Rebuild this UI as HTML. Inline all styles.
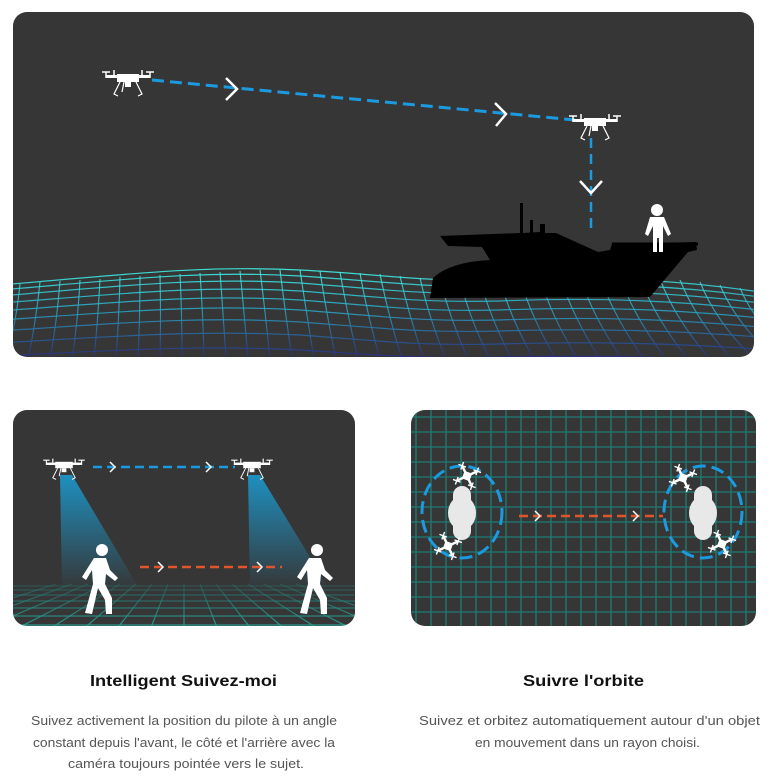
<!DOCTYPE html>
<html><head><meta charset="utf-8"><style>
html,body{margin:0;padding:0;background:#fff;}
svg{display:block}
</style></head><body>
<svg width="771" height="779" viewBox="0 0 771 779" xmlns="http://www.w3.org/2000/svg">
<defs>
<clipPath id="cTop"><rect x="13" y="12" width="741" height="345" rx="14"/></clipPath>
<clipPath id="cBL"><rect x="13" y="410" width="342" height="216" rx="14"/></clipPath>
<clipPath id="cBR"><rect x="411" y="410" width="345" height="216" rx="14"/></clipPath>
<linearGradient id="sea" x1="0" y1="270" x2="0" y2="357" gradientUnits="userSpaceOnUse">
<stop offset="0" stop-color="#40f0e4"/><stop offset="0.45" stop-color="#2aa6c4"/><stop offset="1" stop-color="#2a2f80"/></linearGradient>
<linearGradient id="cone" x1="0" y1="0" x2="0" y2="1">
<stop offset="0" stop-color="#1aa0d8"/><stop offset="1" stop-color="#1aa0d8" stop-opacity="0"/></linearGradient>
<linearGradient id="floor" x1="0" y1="580" x2="0" y2="626" gradientUnits="userSpaceOnUse">
<stop offset="0" stop-color="#1f7a74" stop-opacity="0.3"/><stop offset="1" stop-color="#2a9a90"/></linearGradient>
<g id="drone">
<rect x="-11" y="-4" width="22" height="8" fill="#fff"/>
<rect x="-22" y="-3" width="44" height="3" fill="#fff"/>
<path d="M-22,-6 v6 M22,-6 v6 M-14,-8 v5 M14,-8 v5 M-26,-6 h8 M18,-6 h8" stroke="#fff" stroke-width="1.5"/>
<path d="M-8,4 L-14,16 L-10,18 M8,4 L14,16 L10,18 M-4,4 L-6,14" stroke="#fff" stroke-width="1.2" fill="none"/>
<rect x="-3" y="4" width="6" height="5" fill="#fff"/>
</g>
<g id="qd">
<path d="M-8,-8 L8,8 M-8,8 L8,-8" stroke="#fff" stroke-width="2.5"/>
<rect x="-4" y="-4" width="8" height="8" fill="#fff"/>
<path d="M-12,-8 h8 M4,-8 h8 M-12,8 h8 M4,8 h8 M-8,-12 v8 M8,-12 v8 M-8,4 v8 M8,4 v8" stroke="#fff" stroke-width="1.4"/>
</g>
<g id="walker" fill="#fff">
<circle cx="2" cy="-30" r="6"/>
<path d="M-6,-22 L6,-22 L10,-10 L18,-2 L15,1 L6,-6 L5,4 L12,18 L12,34 L6,34 L5,20 L-2,8 L-8,34 L-15,33 L-7,4 L-8,-10 L-14,0 L-18,-3 Z"/>
</g>
<g id="peanut" fill="#e8e8e8">
<rect x="-9" y="-27" width="18" height="54" rx="9"/>
<ellipse cx="0" cy="0" rx="14" ry="17"/>
</g>
</defs>

<!-- TOP PANEL -->
<g clip-path="url(#cTop)">
<rect x="13" y="12" width="741" height="345" fill="#363636"/>
<g stroke="url(#sea)" stroke-width="1.2" fill="none" opacity="0.9">
<path d="M0,285 C120,275 200,265 300,270 C380,274 420,282 500,280 C600,276 680,280 760,292"/>
<path d="M0,290 C120,280 200,270 300,276 C380,281 420,288 500,286 C600,282 680,286 760,297"/>
<path d="M0,296 C120,286 200,277 300,283 C380,289 420,295 500,293 C600,289 680,293 760,303"/>
<path d="M0,303 C120,294 200,285 300,291 C380,297 420,303 500,301 C600,297 680,301 760,310"/>
<path d="M0,311 C120,302 200,294 300,300 C380,306 420,312 500,310 C600,306 680,310 760,318"/>
<path d="M0,320 C120,312 200,304 300,310 C380,316 420,322 500,320 C600,316 680,320 760,327"/>
<path d="M0,331 C120,323 200,316 300,322 C380,328 420,333 500,331 C600,328 680,331 760,337"/>
<path d="M0,343 C120,336 200,330 300,335 C380,341 420,346 500,344 C600,341 680,344 760,349"/>
<path d="M0,356 C120,350 200,345 300,350 C380,355 420,359 500,357 C600,355 680,357 760,361"/>
</g>
<g stroke="url(#sea)" stroke-width="1.1" fill="none" opacity="0.9">
<path d="M20,284 q-4,40 -14,75 M40,282 q-4,40 -12,77 M60,281 q-3,40 -10,78 M80,280 q-2,40 -8,79 M100,279 q-2,40 -6,80 M120,277 q-1,40 -4,82 M140,276 q0,40 -2,83 M160,275 q1,40 0,84 M180,274 q2,40 2,85 M200,273 q3,40 4,86 M220,272 q3,40 6,87 M240,271 q4,40 8,88 M260,270 q5,40 10,89 M280,270 q5,40 12,89 M300,270 q6,40 14,89 M320,271 q6,40 16,88 M340,272 q7,40 18,87 M360,273 q7,40 20,86 M380,274 q8,40 22,85 M400,276 q9,40 24,83 M420,278 q9,40 26,81 M440,279 q10,40 28,80 M460,280 q10,40 30,79 M480,280 q11,40 32,79 M500,280 q11,40 34,79 M520,279 q12,40 36,80 M540,278 q12,40 38,81 M560,277 q13,40 40,82 M580,277 q13,40 42,82 M600,277 q14,40 44,82 M620,277 q14,40 46,82 M640,278 q15,40 48,81 M660,279 q15,40 50,80 M680,280 q16,40 52,79 M700,282 q16,40 54,77 M720,285 q17,40 56,74 M740,288 q17,40 58,71"/>
</g>
<!-- boat -->
<path fill="#000" d="M440,236 L520,233 L520,203 L523,203 L523,233 L540,232 L540,224 L545,224 L545,233 L556,233 L598,252 L610,250 L612,244 L696,242 L697,250 L688,252 L650,297 L430,298 L433,278 Q450,262 490,260 L482,247 L448,246 Z"/>
<rect x="530" y="220" width="3" height="14" fill="#000"/>
<path d="M612,244 h86 M650,244 v10 M678,244 v10" stroke="#000" stroke-width="3"/>
<!-- person -->
<g fill="#fff"><circle cx="657" cy="210" r="6"/><path d="M650,217 h14 l7,17 l-3,2 l-5,-10 l0,26 l-4,0 l0,-14 l-2,0 l0,14 l-4,0 l0,-26 l-5,10 l-3,-2 z"/></g>
<!-- paths -->
<path d="M152,80 L575,120" stroke="#1b9ae0" stroke-width="3" stroke-dasharray="12,6" fill="none"/>
<path d="M591,138 L591,232" stroke="#1b9ae0" stroke-width="2.5" stroke-dasharray="10,6" fill="none"/>
<path d="M226,78 L237,89 L226,100 M495,103 L506,114 L496,126 M580,181 L591,193 L602,181" stroke="#fff" stroke-width="2.5" fill="none"/>
<use href="#drone" transform="translate(128,78)"/>
<use href="#drone" transform="translate(595,122)"/>
</g>

<!-- BOTTOM LEFT -->
<g clip-path="url(#cBL)">
<rect x="13" y="410" width="342" height="216" fill="#363636"/>
<path d="M60,475 L72,475 L140,590 L62,590 Z" fill="url(#cone)" opacity="0.85"/>
<path d="M248,475 L260,475 L330,590 L250,590 Z" fill="url(#cone)" opacity="0.85"/>
<g stroke="url(#floor)" stroke-width="1.2" fill="none">
<path d="M0,586 H360 M0,590 H360 M0,595 H360 M0,601 H360 M0,608 H360 M0,616 H360 M0,625 H360"/>
<path d="M184,584 L184,630 M168,584 L150,630 M152,584 L116,630 M136,584 L82,630 M120,584 L48,630 M104,584 L14,630 M88,584 L-20,630 M72,584 L-54,630 M56,584 L-88,630 M200,584 L218,630 M216,584 L252,630 M232,584 L286,630 M248,584 L320,630 M264,584 L354,630 M280,584 L388,630 M296,584 L422,630"/>
</g>
<path d="M93,467 L235,467" stroke="#1b9ae0" stroke-width="2.5" stroke-dasharray="9,5"/>
<path d="M110,462 L115,467 L110,472 M206,462 L211,467 L206,472" stroke="#fff" stroke-width="1.5" fill="none"/>
<path d="M140,567 L282,567" stroke="#e0552a" stroke-width="2.5" stroke-dasharray="9,5"/>
<path d="M158,562 L163,567 L158,572 M257,562 L262,567 L257,572" stroke="#fff" stroke-width="1.5" fill="none"/>
<use href="#drone" transform="translate(64,465) scale(0.8)"/>
<use href="#drone" transform="translate(252,465) scale(0.8)"/>
<use href="#walker" transform="translate(100,580)"/>
<use href="#walker" transform="translate(315,580)"/>
</g>

<!-- BOTTOM RIGHT -->
<g clip-path="url(#cBR)">
<rect x="411" y="410" width="345" height="216" fill="#363636"/>
<g stroke="#1e7d75" stroke-width="1.3">
<path d="M416,405V630M431,405V630M446,405V630M461,405V630M476,405V630M491,405V630M506,405V630M521,405V630M536,405V630M551,405V630M566,405V630M581,405V630M596,405V630M611,405V630M626,405V630M641,405V630M656,405V630M671,405V630M686,405V630M701,405V630M716,405V630M731,405V630M746,405V630"/>
<path d="M405,417H760M405,432H760M405,447H760M405,462H760M405,477H760M405,492H760M405,507H760M405,522H760M405,537H760M405,552H760M405,567H760M405,582H760M405,597H760M405,612H760"/>
</g>
<ellipse cx="462" cy="512" rx="40" ry="46" fill="none" stroke="#1b9ae0" stroke-width="3" stroke-dasharray="13,6"/>
<ellipse cx="703" cy="512" rx="39" ry="46" fill="none" stroke="#1b9ae0" stroke-width="3" stroke-dasharray="13,6"/>
<use href="#peanut" transform="translate(462,513)"/>
<use href="#peanut" transform="translate(703,513)"/>
<path d="M519,516 L663,516" stroke="#e0552a" stroke-width="2.5" stroke-dasharray="9,5"/>
<path d="M535,511 L540,516 L535,521 M633,511 L638,516 L633,521" stroke="#fff" stroke-width="1.5" fill="none"/>
<use href="#qd" transform="translate(467,476) rotate(20)"/>
<use href="#qd" transform="translate(448,546) rotate(20)"/>
<use href="#qd" transform="translate(683,478) rotate(20)"/>
<use href="#qd" transform="translate(722,544) rotate(20)"/>
</g>

<!-- TEXT -->
<g font-family="'Liberation Sans', sans-serif">
<text x="90" y="686" textLength="187" lengthAdjust="spacingAndGlyphs" font-size="16" font-weight="bold" fill="#111">Intelligent Suivez-moi</text>
<text x="523" y="686" textLength="121" lengthAdjust="spacingAndGlyphs" font-size="16" font-weight="bold" fill="#111">Suivre l'orbite</text>
<g font-size="12.5" fill="#555">
<text x="31" y="725" textLength="306" lengthAdjust="spacingAndGlyphs">Suivez activement la position du pilote à un angle</text>
<text x="33" y="747" textLength="302" lengthAdjust="spacingAndGlyphs">constant depuis l'avant, le côté et l'arrière avec la</text>
<text x="68" y="768" textLength="236" lengthAdjust="spacingAndGlyphs">caméra toujours pointée vers le sujet.</text>
<text x="419" y="725" textLength="341" lengthAdjust="spacingAndGlyphs">Suivez et orbitez automatiquement autour d'un objet</text>
<text x="475" y="747" textLength="225" lengthAdjust="spacingAndGlyphs">en mouvement dans un rayon choisi.</text>
</g>
</g>
</svg>
</body></html>
